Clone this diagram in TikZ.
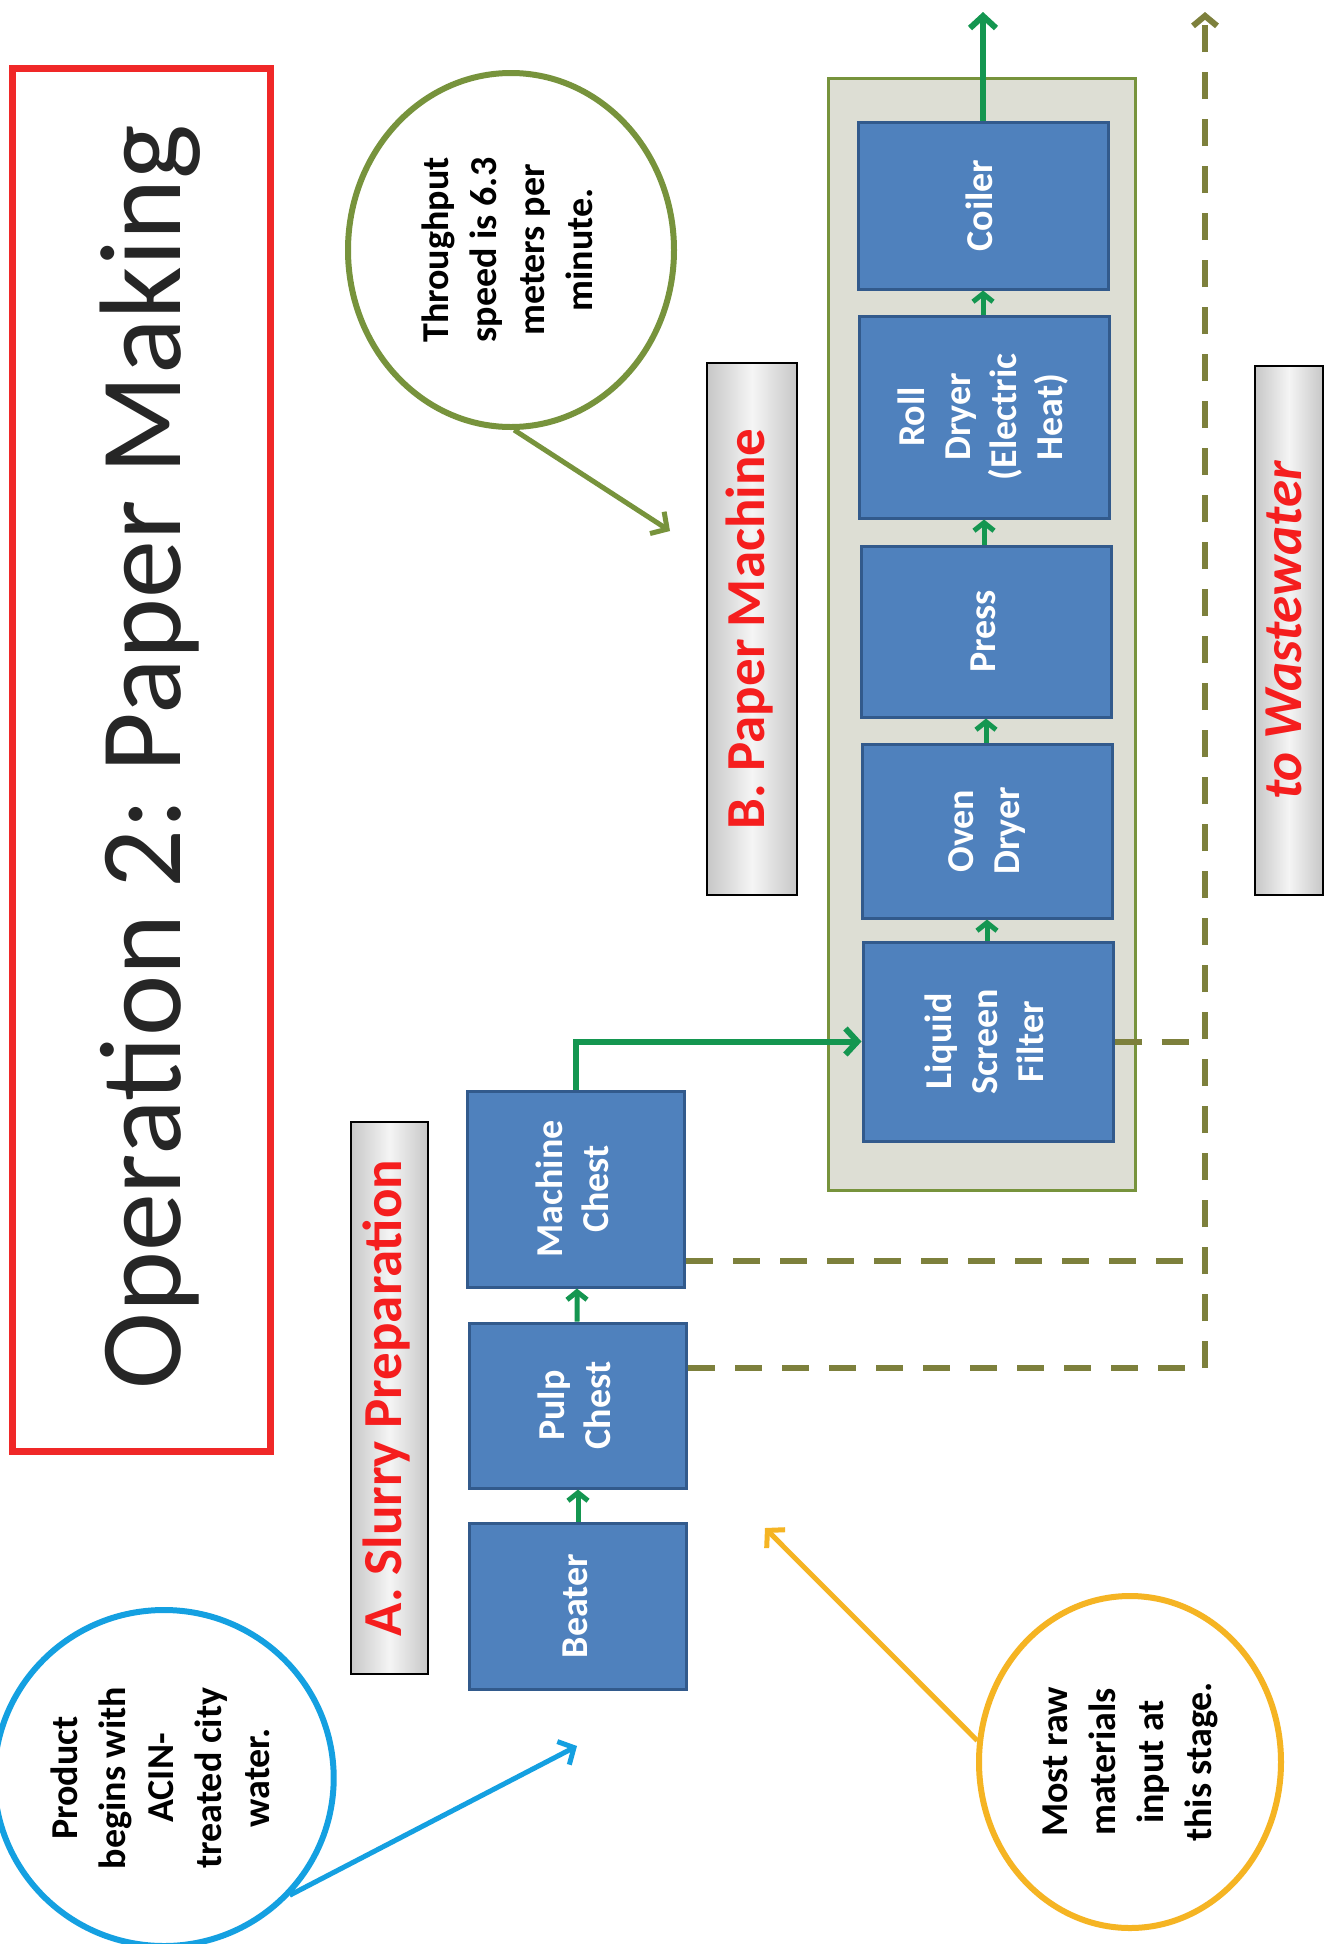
\documentclass[tikz,border=0pt]{standalone}
\usepackage{graphicx}
\usepackage{fontspec}
\setmainfont{Carlito}
\frenchspacing
\usetikzlibrary{arrows.meta,shapes.geometric}
\definecolor{titlered}{RGB}{240,40,40}
\definecolor{titletext}{RGB}{38,38,38}
\definecolor{boxblue}{RGB}{79,129,189}
\definecolor{boxedge}{RGB}{50,90,140}
\definecolor{flowgreen}{RGB}{20,150,80}
\definecolor{olivec}{RGB}{119,147,60}
\definecolor{wasteolive}{RGB}{125,128,60}
\definecolor{panelgrey}{RGB}{221,222,212}
\definecolor{secred}{RGB}{245,30,30}
\definecolor{cyanc}{RGB}{20,160,225}
\definecolor{yellowc}{RGB}{245,180,35}
\newcommand{\rt}[1]{\rotatebox{90}{\begin{tabular}{@{}c@{}}#1\end{tabular}}}
\begin{document}
\begin{tikzpicture}[x=1pt,y=-1pt,
  procbox/.style={draw=boxedge,fill=boxblue,line width=3pt,text=white,inner sep=0pt,
    font=\fontsize{38}{46}\selectfont\bfseries},
  seclabel/.style={draw=black,line width=1.5pt,left color=black!22,right color=black!22,middle color=black!4,
    text=secred,inner sep=0pt,font=\fontsize{55}{60}\selectfont\bfseries},
  callout/.style={ellipse,draw,line width=6pt,inner sep=0pt,text=black,
    font=\fontsize{38}{48}\selectfont\bfseries},
  callarrow/.style={line width=5pt,-{Straight Barb[length=12pt,width=26pt]}},
  flow/.style={draw=flowgreen,line width=6pt,-{Straight Barb[length=12pt,width=26pt]}},
  flowshort/.style={draw=flowgreen,line width=5pt,-{Straight Barb[length=8pt,width=20pt]}},
  waste/.style={draw=wasteolive,line width=6pt,dash pattern=on 27pt off 20pt},
  wastearrow/.style={waste,-{Straight Barb[length=10pt,width=24pt]}}
]
\useasboundingbox (0,0) rectangle (1328,1944);
\fill[white] (0,0) rectangle (1328,1944);

% title
\node[draw=titlered,line width=7pt,fill=white,minimum width=258pt,minimum height=1383pt,inner sep=0pt] (titlebox) at (141,759.5) {};
\node[rotate=90,anchor=base,text=titletext,font=\fontsize{116}{130}\selectfont] (title) at (180,757) {Operation 2: Paper Making};

% section labels
\node[seclabel,minimum width=77pt,minimum height=552pt] (seca) at (389.5,1398) {\rt{A. Slurry Preparation}};
\node[seclabel,minimum width=90pt,minimum height=532pt] (secb) at (752,629) {\rt{B. Paper Machine}};
\node[seclabel,minimum width=68pt,minimum height=529pt,font=\fontsize{55}{60}\selectfont\bfseries\itshape] (secw) at (1289,630.5) {\rt{to Wastewater}};

% paper machine panel
\node[draw=olivec,fill=panelgrey,line width=3pt,minimum width=307pt,minimum height=1112pt,inner sep=0pt] (panel) at (981.5,634) {};

% slurry boxes
\node[procbox,minimum width=217pt,minimum height=166pt] (beater) at (578,1606) {\rt{Beater}};
\node[procbox,minimum width=217pt,minimum height=165pt] (pulp) at (578,1405.5) {\rt{Pulp\\Chest}};
\node[procbox,minimum width=217pt,minimum height=196pt] (mchest) at (576,1189) {\rt{Machine\\Chest}};

% paper machine boxes
\node[procbox,minimum width=250pt,minimum height=199pt] (lsf) at (988,1041.5) {\rt{Liquid\\Screen\\Filter}};
\node[procbox,minimum width=250pt,minimum height=174pt] (oven) at (987,831) {\rt{Oven\\Dryer}};
\node[procbox,minimum width=250pt,minimum height=171pt] (press) at (986,631.5) {\rt{Press}};
\node[procbox,minimum width=250pt,minimum height=202pt] (roll) at (984,417) {\rt{Roll\\Dryer\\(Electric\\Heat)}};
\node[procbox,minimum width=250pt,minimum height=167pt] (coiler) at (983,205.5) {\rt{Coiler}};

% flow arrows
\draw[flowshort] (beater) -- (pulp);
\draw[flowshort] (pulp) -- (mchest);
\draw[flow] (mchest.north) |- (lsf.west);
\draw[flowshort] (lsf.north -| oven.north) -- (oven.south);
\draw[flowshort] (oven.north -| press.south) -- (press.south);
\draw[flowshort] (press.north -| roll.south) -- (roll.south);
\draw[flowshort] (roll.north -| coiler.south) -- (coiler.south);
\coordinate (outtop) at (983,12);
\draw[flow] (coiler.north) -- (outtop);

% wastewater
\coordinate (wtop) at (1205,12);
\coordinate (wbot) at (1205,1368);
\coordinate (wmid) at (1205,1261);
\draw[wastearrow] (pulp.east |- wbot) -- (wbot) -- (wtop);
\draw[waste] (mchest.east |- wmid) -- (wmid);
\draw[waste] (lsf.east) -- (lsf.east -| wtop);

% callouts
\node[callout,draw=olivec,minimum width=326pt,minimum height=354pt] (greenc) at (511,250) {\rt{Throughput\\speed is 6.3\\meters per\\minute.}};
\coordinate (greentip) at (670,531);
\draw[callarrow,olivec] (greenc.-89) -- (greentip);

\node[callout,draw=cyanc,minimum width=316pt,minimum height=336pt] (bluec) at (164,1778) {\rt{Product\\begins with\\ACIN-\\treated city\\water.}};
\coordinate (bluetip) at (577,1746);
\draw[callarrow,cyanc] (bluec.-43) -- (bluetip);

\node[callout,draw=yellowc,minimum width=302pt,minimum height=332pt] (yellowc) at (1130,1762) {\rt{Most raw\\materials\\input at\\this stage.}};
\coordinate (yellowtip) at (765,1528);
\draw[callarrow,yellowc] (yellowc.172) -- (yellowtip);
\end{tikzpicture}
\end{document}
